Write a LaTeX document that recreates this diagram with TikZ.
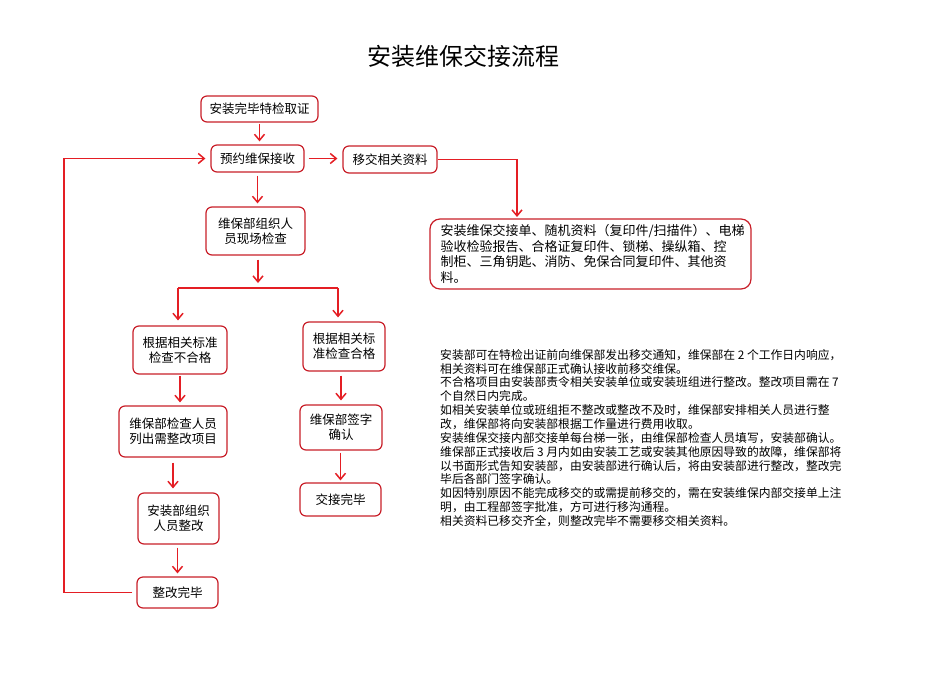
\documentclass[tikz,border=0pt]{standalone}
\usepackage{fontspec}
\setmainfont{Noto Sans CJK SC}
\usetikzlibrary{arrows.meta}
\definecolor{bred}{RGB}{200,30,40}
\definecolor{ared}{RGB}{228,30,36}
\begin{document}
\begin{tikzpicture}[x=1pt,y=-1pt,
  box/.style={draw=bred, line width=1.2pt, rounded corners=6pt, align=center,
    font=\fontsize{12.5}{15}\selectfont, inner sep=0pt},
  arr/.style={draw=ared, line width=1.3pt, -{Straight Barb[length=6pt,width=10pt,line width=1.5pt]}},
  ln/.style={draw=ared, line width=1.3pt}]
\useasboundingbox (0,0) rectangle (950,672);
\node[font=\fontsize{24}{28}\selectfont] (title) at (463,56) {安装维保交接流程};
\node[box, minimum width=117pt, minimum height=26pt] (b1) at (259.5,109) {安装完毕特检取证};
\node[box, minimum width=93pt, minimum height=27pt] (b2) at (257.5,158.5) {预约维保接收};
\node[box, minimum width=94pt, minimum height=27pt] (b3) at (390,159.5) {移交相关资料};
\node[box, rounded corners=10pt, minimum width=321pt, minimum height=70pt, text width=300pt,
  align=left, font=\fontsize{13}{15.5}\selectfont] (b4) at (590.5,254)
  {安装维保交接单、随机资料（复印件/扫描件）、电梯\\验收检验报告、合格证复印件、锁梯、操纵箱、控\\制柜、三角钥匙、消防、免保合同复印件、其他资\\料。};
\node[box, minimum width=99pt, minimum height=48pt] (b5) at (255.5,231) {维保部组织人\\员现场检查};
\node[box, minimum width=94pt, minimum height=48pt] (b6) at (180,350) {根据相关标准\\检查不合格};
\node[box, minimum width=82pt, minimum height=49pt] (b7) at (344,346.5) {根据相关标\\准检查合格};
\node[box, minimum width=108pt, minimum height=51pt] (b8) at (173,431.5) {维保部检查人员\\列出需整改项目};
\node[box, minimum width=81pt, minimum height=51pt] (b9) at (178.5,518.5) {安装部组织\\人员整改};
\node[box, minimum width=81pt, minimum height=31pt] (b10) at (177.5,592.5) {整改完毕};
\node[box, minimum width=82pt, minimum height=45pt] (b11) at (341,427.5) {维保部签字\\确认};
\node[box, minimum width=81pt, minimum height=33pt] (b12) at (340.5,499.5) {交接完毕};
\node[anchor=north west, inner sep=0pt, align=left, font=\fontsize{11.8}{13.85}\selectfont] (note) at (440,349)
  {安装部可在特检出证前向维保部发出移交通知，维保部在 2 个工作日内响应，\\
   相关资料可在维保部正式确认接收前移交维保。\\
   不合格项目由安装部责令相关安装单位或安装班组进行整改。整改项目需在 7\\
   个自然日内完成。\\
   如相关安装单位或班组拒不整改或整改不及时，维保部安排相关人员进行整\\
   改，维保部将向安装部根据工作量进行费用收取。\\
   安装维保交接内部交接单每台梯一张，由维保部检查人员填写，安装部确认。\\
   维保部正式接收后 3 月内如由安装工艺或安装其他原因导致的故障，维保部将\\
   以书面形式告知安装部，由安装部进行确认后，将由安装部进行整改，整改完\\
   毕后各部门签字确认。\\
   如因特别原因不能完成移交的或需提前移交的，需在安装维保内部交接单上注\\
   明，由工程部签字批准，方可进行移沟通程。\\
   相关资料已移交齐全，则整改完毕不需要移交相关资料。};
% connectors
\draw[arr, shorten <=1pt, shorten >=3pt] (b1.south) -- (b1.south |- b2.north);
\draw[arr, shorten <=4pt, shorten >=5pt] (b2.east) -- (b2.east -| b3.west);
\coordinate (b4in) at (517,217);
\draw[arr] (b3.east) -- (b3.east -| b4in) -- (b4in);
\draw[arr, shorten <=3pt, shorten >=3pt] (b2.south) -- (b2.south |- b5.north);
\coordinate (brL) at (178,288);
\coordinate (brR) at (338,288);
\coordinate (brM) at (258,283);
\draw[arr, shorten <=4pt] (b5.south -| brM) -- (brM);
\draw[ln] (brL) -- (brR);
\draw[arr, shorten >=5pt] (brL) -- (brL |- b6.north);
\draw[arr, shorten >=4pt] (brR) -- (brR |- b7.north);
\draw[arr, shorten <=1pt, shorten >=3pt] (b6.south) -- (b6.south |- b8.north);
\draw[arr, shorten <=5pt, shorten >=4pt] (b8.south) -- (b8.south |- b9.north);
\draw[arr, shorten <=3pt, shorten >=3pt] (b9.south -| b10.north) -- (b10.north);
\draw[arr, shorten <=4pt, shorten >=4pt] (b7.south -| b11.north) -- (b11.north);
\draw[arr, shorten <=2pt, shorten >=2pt] (b11.south -| b12.north) -- (b12.north);
\coordinate (fb) at (64,592.5);
\draw[arr, line width=1.9pt, shorten >=5pt] ([xshift=-4pt]b10.west) -- (fb) -- (fb |- b2.west) -- (b2.west);
\end{tikzpicture}
\end{document}
